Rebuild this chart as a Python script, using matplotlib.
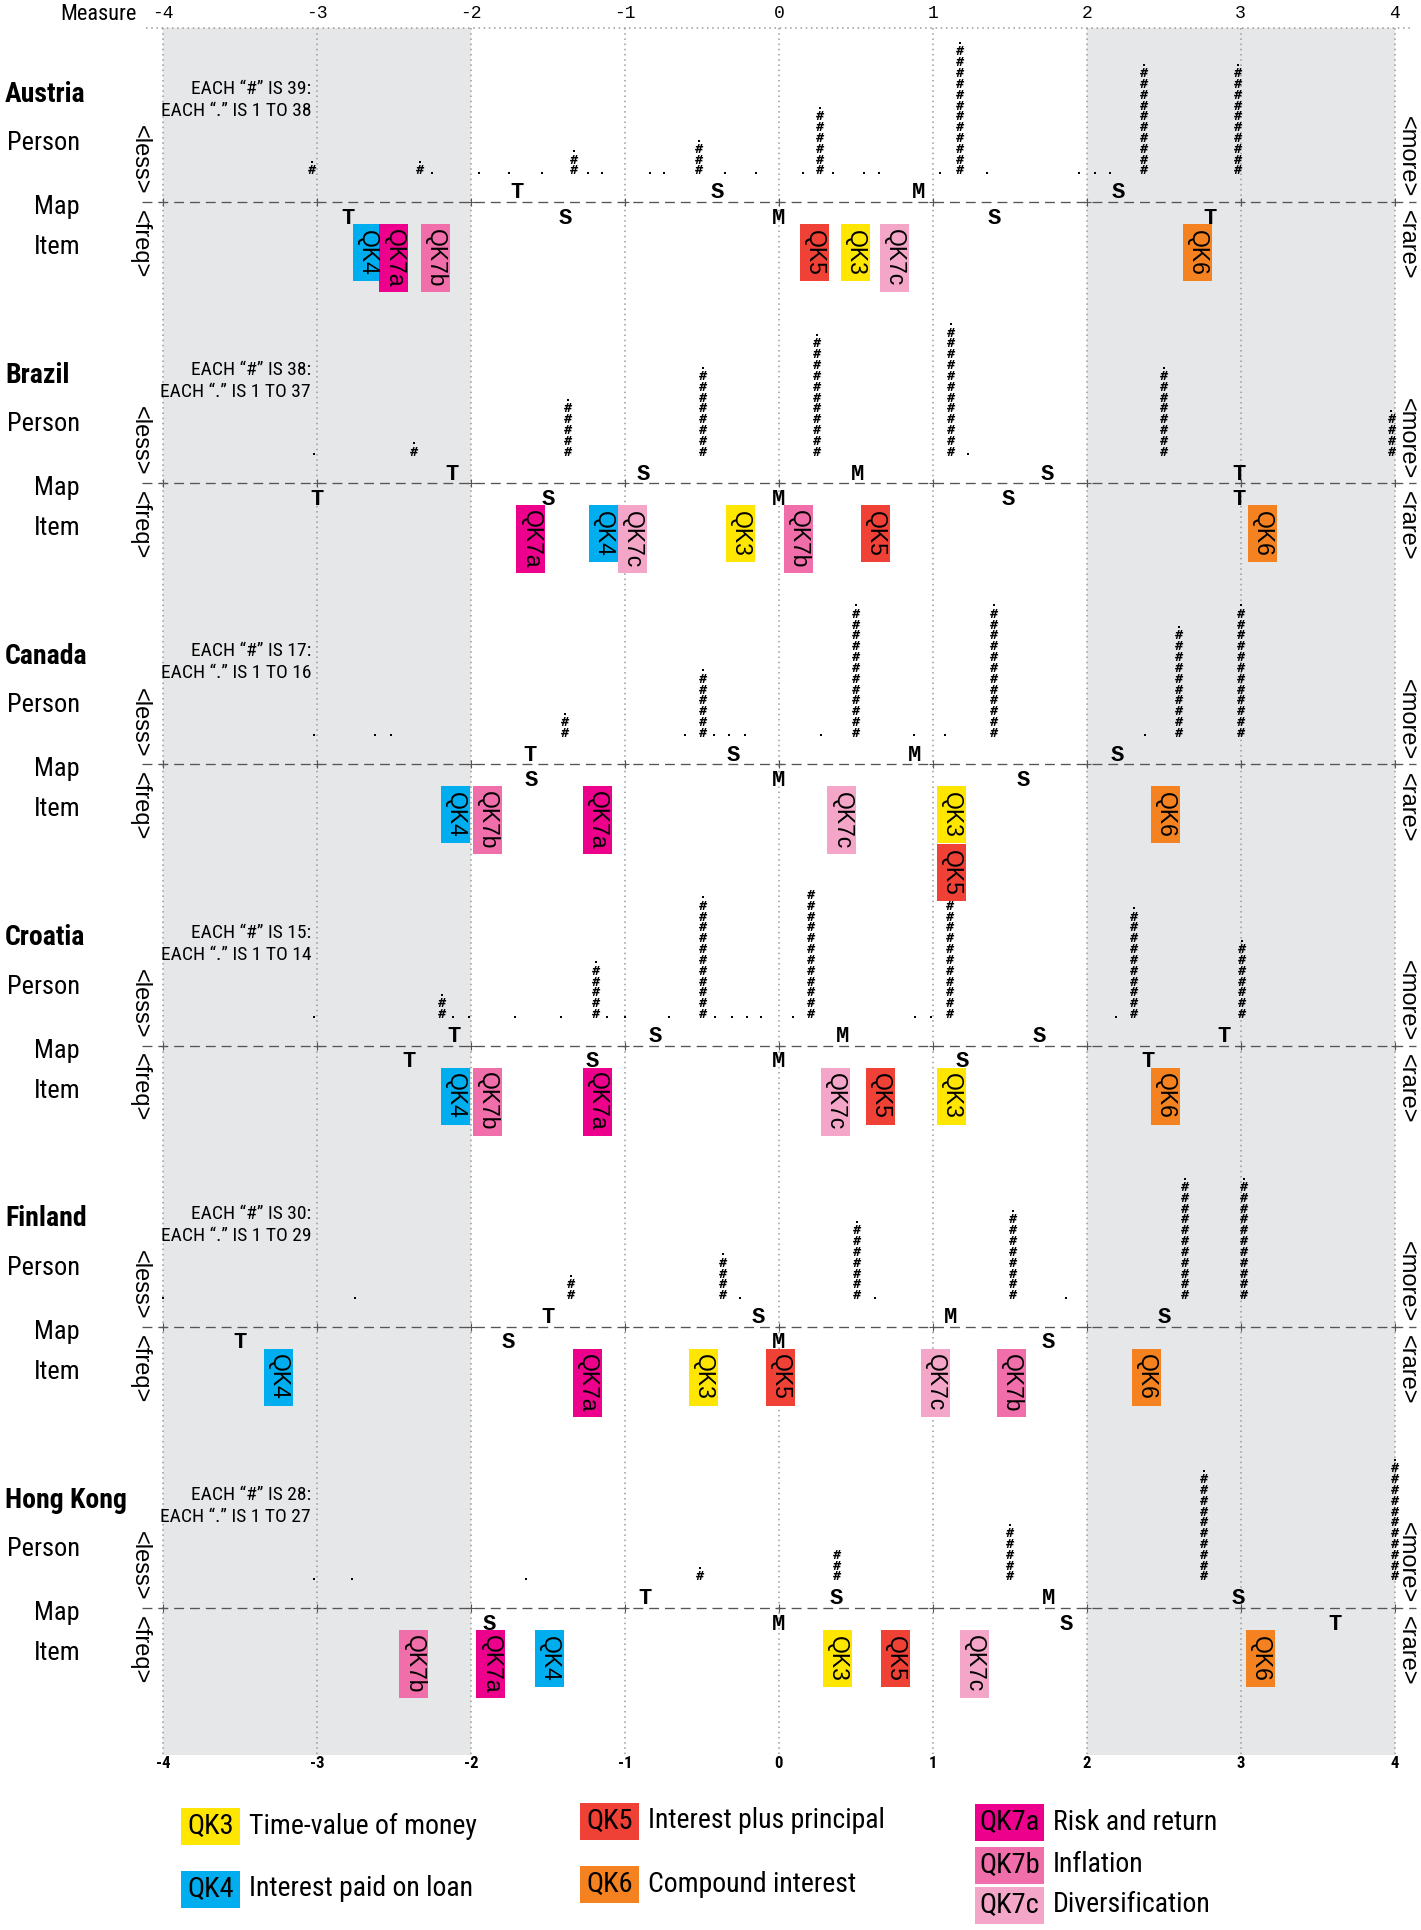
import os
import matplotlib
matplotlib.use("Agg")
import matplotlib.pyplot as plt
from matplotlib import font_manager
from matplotlib.font_manager import FontProperties

W, H = 1421, 1930

SANS = "Liberation Sans"
MONO = "Liberation Mono"


def pick_condensed(bold):
    # look for any narrow / condensed face installed, best families first
    prefer = ["liberationsansnarrow", "robotocondensed", "notosans-condensed",
              "opensans", "dejavusanscondensed", "dejavusans-condensed"]
    found = []
    for f in font_manager.fontManager.ttflist:
        b = os.path.basename(f.fname).lower()
        if "narrow" not in b and "condensed" not in b:
            continue
        if any(k in b for k in ("italic", "oblique", "semicondensed", "extracondensed",
                                "ultracondensed", "light", "thin", "medium", "black",
                                "semibold", "extrabold")):
            continue
        if ("bold" in b) != bold:
            continue
        rank = len(prefer)
        for i, p in enumerate(prefer):
            if b.startswith(p):
                rank = i
                break
        found.append((rank, f.fname))
    found.sort()
    return found[0][1] if found else None


NARROW_FILE = pick_condensed(False)
NARROW_BOLD_FILE = pick_condensed(True)


def nprop(size, bold=False):
    path = NARROW_BOLD_FILE if bold else NARROW_FILE
    if path is None:
        return FontProperties(family="Roboto", size=size * 0.88,
                              weight="bold" if bold else "normal")
    return FontProperties(fname=path, size=size)


# ---- data ------------------------------------------------------------------
COUNTRIES = ["Austria", "Brazil", "Canada", "Croatia", "Finland", "Hong Kong"]
HASH_SIZE = [39, 38, 17, 15, 30, 28]

ITEMS = ["QK3", "QK4", "QK5", "QK6", "QK7a", "QK7b", "QK7c"]
ITEM_NAMES = ["Time-value of money", "Interest paid on loan", "Interest plus principal",
              "Compound interest", "Risk and return", "Inflation", "Diversification"]
ITEM_COLORS = ["#ffe600", "#00aeef", "#ef4136", "#f58220", "#ec008c", "#f06ea9", "#f4a6c8"]

# item measures, one list per country, in ITEMS order
ITEM_X = [
    [0.50, -2.67, 0.23, 2.72, -2.50, -2.23, 0.75],
    [-0.25, -1.14, 0.63, 3.14, -1.61, 0.13, -0.95],
    [1.12, -2.10, 1.12, 2.51, -1.18, -1.89, 0.41],
    [1.12, -2.10, 0.66, 2.51, -1.18, -1.89, 0.37],
    [-0.49, -3.25, 0.01, 2.39, -1.24, 1.51, 1.02],
    [0.38, -1.49, 0.76, 3.13, -1.87, -2.37, 1.27],
]

# person distribution: columns of "#" (x, count, dot on top) and lone dots
COL_X = [
    [-3.03, -2.33, -1.33, -0.52, 0.27, 1.175, 2.37, 2.98],
    [-2.37, -1.37, -0.49, 0.25, 1.12, 2.50, 3.98],
    [-1.39, -0.49, 0.50, 1.40, 2.60, 3.00],
    [-2.19, -1.19, -0.49, 0.21, 1.11, 2.31, 3.01],
    [-1.35, -0.36, 0.51, 1.52, 2.64, 3.02],
    [-0.51, 0.38, 1.50, 2.76, 4.00],
]
COL_N = [
    [1, 1, 2, 3, 6, 12, 10, 10],
    [1, 5, 8, 11, 12, 8, 4],
    [2, 6, 12, 12, 10, 12],
    [2, 5, 11, 12, 12, 10, 7],
    [2, 4, 7, 8, 11, 11],
    [1, 3, 5, 10, 11],
]
COL_TOP = [
    [1, 1, 1, 1, 1, 1, 1, 1],
    [1, 1, 1, 1, 1, 1, 1],
    [1, 1, 1, 1, 1, 1],
    [1, 1, 1, 0, 1, 1, 1],
    [1, 1, 1, 1, 1, 1],
    [1, 0, 1, 1, 1],
]
LONE_DOTS = [
    [-2.25, -1.95, -1.75, -1.54, -1.24, -1.15, -0.835, -0.746, -0.35, -0.15,
     0.155, 0.355, 0.552, 0.653, 1.05, 1.353, 1.952, 2.054, 2.152],
    [-3.02, 1.228],
    [-3.02, -2.62, -2.52, -0.61, -0.42, -0.32, -0.22, 0.274, 0.879, 1.079, 2.376],
    [-3.02, -2.113, -2.015, -1.716, -1.412, -1.113, -1.0, -0.71, -0.411, -0.307,
     -0.209, -0.113, 0.095, 0.885, 0.99, 2.19],
    [-4.0, -2.755, -0.253, 0.623, 1.869],
    [-3.02, -2.77, -1.642],
]

# mean / 1 SD / 2 SD markers of persons (above line) and items (below line)
PERSON_MARK = [
    ["T", "S", "M", "S"],
    ["T", "S", "M", "S", "T"],
    ["T", "S", "M", "S"],
    ["T", "S", "M", "S", "T"],
    ["T", "S", "M", "S"],
    ["T", "S", "M", "S"],
]
PERSON_MARK_X = [
    [-1.70, -0.40, 0.905, 2.207],
    [-2.12, -0.88, 0.51, 1.747, 2.99],
    [-1.613, -0.298, 0.883, 2.20],
    [-2.112, -0.80, 0.412, 1.69, 2.895],
    [-1.50, -0.13, 1.115, 2.505],
    [-0.868, 0.373, 1.755, 2.985],
]
ITEM_MARK = [
    ["T", "S", "M", "S", "T"],
    ["T", "S", "M", "S", "T"],
    ["S", "M", "S"],
    ["T", "S", "M", "S", "T"],
    ["T", "S", "M", "S"],
    ["S", "M", "S", "T"],
]
ITEM_MARK_X = [
    [-2.80, -1.39, 0.0, 1.40, 2.80],
    [-3.00, -1.50, 0.0, 1.49, 2.99],
    [-1.61, 0.0, 1.59],
    [-2.40, -1.21, 0.0, 1.19, 2.40],
    [-3.50, -1.76, 0.0, 1.75],
    [-1.88, 0.0, 1.865, 3.615],
]
TICKS = [-4, -3, -2, -1, 0, 1, 2, 3, 4]

# ---- layout (pixels) ---------------------------------------------------------
X0, UNIT = 163.0, 153.94
PANEL_Y0, PANEL_STEP = 202.0, 281.2
ROW = 10.83
TOP_Y, BOT_Y = 28.0, 1755.0


def xd(px):
    return -4 + (px - X0) / UNIT


fig = plt.figure(figsize=(W / 100, H / 100), dpi=100)
ax = fig.add_axes([0, 0, 1, 1])
ax.set_xlim(xd(0), xd(W))
ax.set_ylim(H, 0)
ax.axis("off")

# grey bands and dotted grid
for lo, hi in [(-4, -2), (2, 4)]:
    ax.fill_between([lo, hi], TOP_Y, BOT_Y, color="#e6e7e8", lw=0, zorder=0)
ax.vlines(TICKS, TOP_Y, BOT_Y, colors="#9a9a9a", lw=1.1,
          linestyles=(0, (1, 2.4)), zorder=1)
ax.plot([xd(146), xd(1410)], [TOP_Y, TOP_Y], color="#9a9a9a", lw=1.1,
        ls=(0, (1, 2.4)), zorder=1)

# axis texts
ax.text(xd(137), 14, "Measure", fontproperties=nprop(16), ha="right", va="center")
for t in TICKS:
    ax.text(t, 13, str(t), family=MONO, size=13, ha="center", va="center")
    ax.text(t, 1764, str(t), fontproperties=nprop(12, True), ha="center", va="center")

for k, country in enumerate(COUNTRIES):
    d = PANEL_Y0 + k * PANEL_STEP

    ax.plot([xd(142), xd(1416)], [d, d], color="#555555", lw=0.95,
            dashes=(7.5, 4.5), zorder=2)
    ax.scatter(TICKS, [d] * len(TICKS), marker="+", s=28, linewidths=0.8,
               color="#555555", zorder=2)

    # persons
    base = d - 31
    for x, n, top in zip(COL_X[k], COL_N[k], COL_TOP[k]):
        for i in range(n):
            ax.text(x, base - i * ROW, "#", family="DejaVu Sans Mono", weight="bold",
                    size=9.5, ha="center", va="center", zorder=3)
        if top:
            ax.scatter([x], [base - n * ROW + 2], marker="s", s=3.5,
                       color="black", linewidths=0, zorder=3)
    ax.scatter(LONE_DOTS[k], [base + 2] * len(LONE_DOTS[k]), marker="s", s=3.5,
               color="black", linewidths=0, zorder=3)

    for lab, x in zip(PERSON_MARK[k], PERSON_MARK_X[k]):
        ax.text(x, d - 9, lab, family=MONO, weight="bold", size=16,
                ha="center", va="center", zorder=3)
    for lab, x in zip(ITEM_MARK[k], ITEM_MARK_X[k]):
        ax.text(x, d + 16, lab, family=MONO, weight="bold", size=16,
                ha="center", va="center", zorder=3)

    # items
    placed = []
    for lab, x, col in zip(ITEMS, ITEM_X[k], ITEM_COLORS):
        row = sum(1 for p in placed if abs(p - x) < 0.1)
        placed.append(x)
        top = d + 22 + row * 58
        h = 24 + 11 * len(lab)
        ax.bar(x, h, width=29 / UNIT, bottom=top, color=col, lw=0, zorder=4)
        ax.text(x, top + h / 2, lab, family=SANS, size=16.5, rotation=-90,
                ha="center", va="center", zorder=5)

    # side labels
    ax.text(xd(5), d - 108, country, fontproperties=nprop(20, True),
            ha="left", va="center")
    ax.text(xd(80), d - 59, "Person", fontproperties=nprop(19), ha="right", va="center")
    ax.text(xd(80), d + 5, "Map", fontproperties=nprop(19), ha="right", va="center")
    ax.text(xd(80), d + 45, "Item", fontproperties=nprop(19), ha="right", va="center")
    ax.text(xd(311), d - 113, "EACH \u201c#\u201d IS %d:" % HASH_SIZE[k],
            fontproperties=nprop(14), ha="right", va="center")
    ax.text(xd(311), d - 91, "EACH \u201c.\u201d IS 1 TO %d" % (HASH_SIZE[k] - 1),
            fontproperties=nprop(14), ha="right", va="center")
    ax.text(xd(140), d - 42, "<less>", family=SANS, size=17, rotation=-90,
            ha="center", va="center")
    ax.text(xd(140), d + 42, "<freq>", family=SANS, size=17, rotation=-90,
            ha="center", va="center")
    ax.text(xd(1407), d - 45, "<more>", family=SANS, size=17, rotation=-90,
            ha="center", va="center")
    ax.text(xd(1407), d + 43, "<rare>", family=SANS, size=17, rotation=-90,
            ha="center", va="center")

# legend
LEG_POS = [(181, 1826), (181, 1889), (580, 1821), (580, 1884),
           (975, 1822), (975, 1865), (975, 1905)]
for (lx, ly), lab, name, col in zip(LEG_POS, ITEMS, ITEM_NAMES, ITEM_COLORS):
    w = 59 if len(lab) == 3 else 69
    ax.bar(xd(lx + w / 2), 37, width=w / UNIT, bottom=ly - 18.5, color=col, lw=0)
    ax.text(xd(lx + w / 2), ly, lab, fontproperties=nprop(20.5), ha="center", va="center")
    ax.text(xd(lx + w + 9), ly, name, fontproperties=nprop(20), ha="left", va="center")

fig.savefig("out.png", dpi=100)
